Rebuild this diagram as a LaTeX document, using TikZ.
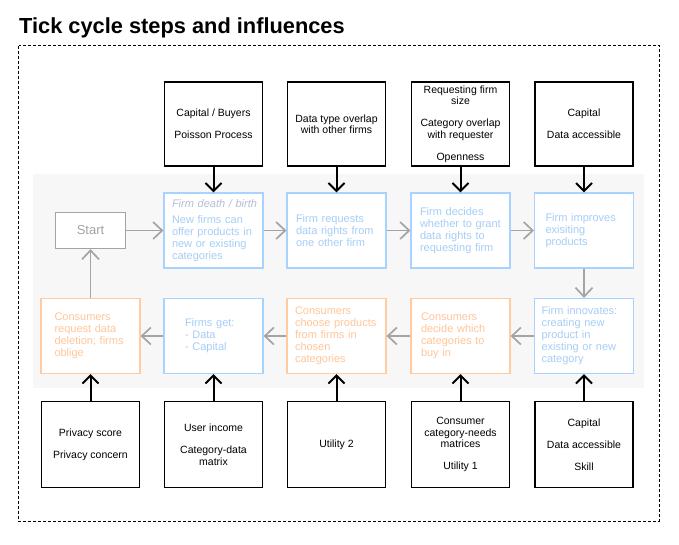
\documentclass[tikz,border=0pt]{standalone}
\usepackage{fontspec}
\setmainfont{Liberation Sans}
\usetikzlibrary{arrows.meta}
\definecolor{bandgray}{HTML}{F7F7F7}
\definecolor{flowgray}{HTML}{A4A4A4}
\definecolor{firmblue}{HTML}{A9D3FF}
\definecolor{firmtext}{HTML}{A6CEF6}
\definecolor{userorange}{HTML}{FFCB9F}
\definecolor{usertext}{HTML}{FFC69A}
\definecolor{notegray}{HTML}{B6BDD6}
\begin{document}
\begin{tikzpicture}[x=1pt, y=-1pt,
  input/.style={draw, fill=white, line width=1.3pt, minimum width=98pt, minimum height=84pt, inner sep=0pt, align=center, font=\fontsize{10.5}{11.5}\selectfont},
  stepbox/.style={draw, fill=white, line width=1.2pt, minimum width=99pt, minimum height=75pt, inner sep=0pt, text width=81pt, align=left, font=\fontsize{11}{12}\selectfont},
  firm/.style={stepbox, draw=firmblue, text=firmtext},
  user/.style={stepbox, draw=userorange, text=usertext},
  startbox/.style={draw=flowgray, fill=white, text=flowgray, line width=1.2pt, minimum width=70pt, minimum height=36pt, font=\fontsize{13}{15}\selectfont},
  flow/.style={draw=flowgray, line width=1.7pt, -{Straight Barb[length=9pt, width=17pt, line width=1.7pt]}},
  push/.style={line width=2pt, -{Straight Barb[length=8pt, width=16pt, line width=2pt]}}]
  \useasboundingbox (0,0) rectangle (679,544);
  \node (title) [anchor=base west, inner sep=0pt, font=\bfseries\fontsize{21.8}{26}\selectfont] at (19,33) {Tick cycle steps and influences};
  \draw[dash pattern=on 3pt off 2pt, line width=0.8pt] (18.5,45.5) rectangle (659,521);
  \fill[bandgray] (33,174) rectangle (644,388);

  % steps of one tick
  \node (start) [startbox] at (90.5,230.5) {Start};
  \node (birth) [firm, text width=83pt] at (213.5,230.5) {\mbox{\itshape\color{notegray}Firm death / birth}\\[4pt]New firms can\\offer products in\\new or existing\\categories};
  \node (request) [firm] at (336.5,230.5) {Firm requests\\data rights from\\one other firm};
  \node (grant) [firm] at (460.5,230.5) {Firm decides\\whether to grant\\data rights to\\requesting firm};
  \node (improve) [firm, text width=77pt] at (584,230.5) {Firm improves\\exisiting\\products};
  \node (innovate) [firm, text width=85pt] at (584,336) {Firm innovates:\\creating new\\product in\\existing or new\\category};
  \node (decide) [user, text width=79pt] at (460.5,336) {Consumers\\decide which\\categories to\\buy in};
  \node (choose) [user, text width=83pt] at (336.5,336) {Consumers\\choose products\\from firms in\\chosen\\categories};
  \node (get) [firm, text width=57pt] at (213.5,336) {Firms get:\\- Data\\- Capital};
  \node (delete) [user, text width=72pt] at (90.5,336) {Consumers\\request data\\deletion; firms\\oblige};

  % influences from above
  \node (birthIn) [input] at (213.5,124) {Capital / Buyers\\[10.5pt]Poisson Process};
  \node (requestIn) [input] at (336.5,124) {Data type overlap\\with other firms};
  \node (grantIn) [input] at (460.5,124) {Requesting firm\\size\\[10.5pt]Category overlap\\with requester\\[10.5pt]Openness};
  \node (improveIn) [input] at (584,124) {Capital\\[10.5pt]Data accessible};

  % influences from below
  \node (deleteIn) [input, minimum height=86pt] at (90.5,444.5) {Privacy score\\[10.5pt]Privacy concern};
  \node (getIn) [input, minimum height=86pt] at (213.5,444.5) {User income\\[10.5pt]Category-data\\matrix};
  \node (chooseIn) [input, minimum height=86pt] at (336.5,444.5) {Utility 2};
  \node (decideIn) [input, minimum height=86pt] at (460.5,444.5) {Consumer\\category-needs\\matrices\\[10.5pt]Utility 1};
  \node (innovateIn) [input, minimum height=86pt] at (584,444.5) {Capital\\[10.5pt]Data accessible\\[10.5pt]Skill};

  \draw[flow] (start) -- (birth);
  \draw[flow] (birth) -- (request);
  \draw[flow] (request) -- (grant);
  \draw[flow] (grant) -- (improve);
  \draw[flow] (improve) -- (innovate);
  \draw[flow] (innovate) -- (decide);
  \draw[flow] (decide) -- (choose);
  \draw[flow] (choose) -- (get);
  \draw[flow] (get) -- (delete);
  \draw[flow] (delete) -- (start);

  \draw[push] (birthIn) -- (birth);
  \draw[push] (requestIn) -- (request);
  \draw[push] (grantIn) -- (grant);
  \draw[push] (improveIn) -- (improve);
  \draw[push] (deleteIn) -- (delete);
  \draw[push] (getIn) -- (get);
  \draw[push] (chooseIn) -- (choose);
  \draw[push] (decideIn) -- (decide);
  \draw[push] (innovateIn) -- (innovate);
\end{tikzpicture}
\end{document}
